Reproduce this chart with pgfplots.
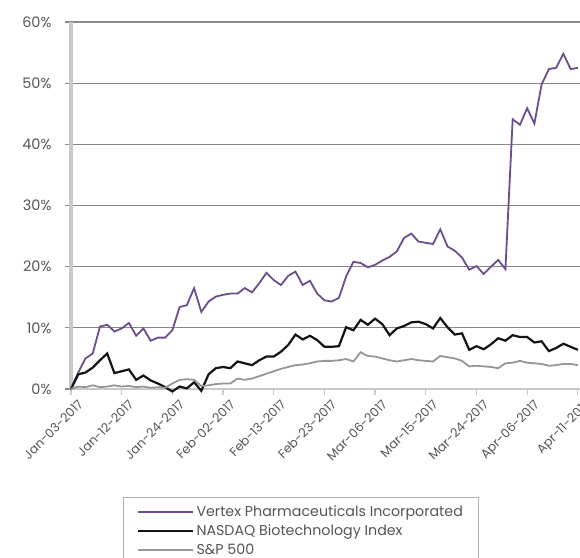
\documentclass[border=0pt]{standalone}
\usepackage{pgfplots}
\usepackage{pgfplotstable}
\pgfplotsset{compat=1.18}
\usepackage{fontspec}
\setmainfont{Poppins}
\definecolor{vpurple}{RGB}{108,78,140}
\definecolor{nblack}{RGB}{20,20,20}
\definecolor{sgray}{RGB}{150,150,150}
\definecolor{gridgray}{RGB}{135,135,135}
\definecolor{axgray}{RGB}{200,200,200}
\definecolor{txtgray}{RGB}{85,85,85}
\pgfplotstableread{
idx V N S
0 0.0 0.0 0.0
1 2.7 2.4 0.4
2 5.0 2.7 0.3
3 5.8 3.5 0.6
4 10.2 4.7 0.3
5 10.5 5.8 0.4
6 9.4 2.6 0.6
7 9.9 2.9 0.4
8 10.8 3.2 0.5
9 8.7 1.5 0.3
10 9.9 2.2 0.4
11 7.9 1.4 0.2
12 8.4 0.9 0.3
13 8.4 0.3 0.2
14 9.6 -0.4 0.9
15 13.4 0.4 1.5
16 13.7 0.1 1.6
17 16.5 1.1 1.5
18 12.6 -0.3 0.5
19 14.3 2.4 0.6
20 15.1 3.4 0.8
21 15.4 3.6 0.9
22 15.6 3.4 0.9
23 15.6 4.5 1.7
24 16.5 4.2 1.5
25 15.8 3.9 1.7
26 17.3 4.7 2.1
27 19.0 5.3 2.5
28 17.8 5.3 2.9
29 17.0 6.1 3.3
30 18.5 7.2 3.6
31 19.2 8.9 3.9
32 17.0 8.1 4.0
33 17.7 8.7 4.2
34 15.6 8.0 4.5
35 14.5 6.9 4.6
36 14.3 6.9 4.6
37 14.9 7.0 4.7
38 18.4 10.1 4.9
39 20.8 9.6 4.5
40 20.6 11.3 6.0
41 19.9 10.5 5.4
42 20.3 11.5 5.3
43 21.0 10.6 5.0
44 21.6 8.8 4.7
45 22.5 9.9 4.5
46 24.7 10.3 4.7
47 25.4 10.9 4.9
48 24.1 11.0 4.7
49 23.9 10.6 4.6
50 23.7 9.9 4.5
51 26.1 11.6 5.4
52 23.3 10.1 5.2
53 22.6 8.9 5.0
54 21.5 9.1 4.6
55 19.5 6.4 3.7
56 20.1 7.0 3.8
57 18.8 6.5 3.7
58 20.0 7.3 3.6
59 21.1 8.3 3.4
60 19.6 7.9 4.2
61 44.1 8.8 4.3
62 43.2 8.5 4.6
63 45.9 8.5 4.3
64 43.4 7.6 4.2
65 49.8 7.8 4.1
66 52.3 6.2 3.8
67 52.5 6.7 3.9
68 54.8 7.4 4.1
69 52.3 6.9 4.1
70 52.5 6.4 3.9
}\datatable
\begin{document}
\begin{tikzpicture}
\useasboundingbox (-71bp,-169bp) rectangle (509bp,389bp);
\begin{axis}[
  scale only axis, width=509bp, height=367bp,
  xmin=0, xmax=70.3, ymin=0, ymax=60,
  clip=false,
  axis lines*=left,
  x axis line style={draw=axgray, line width=1.5bp},
  y axis line style={draw=axgray, line width=3bp},
  ymajorgrids, grid style={draw=gridgray, line width=1.2bp},
  tick align=outside, major tick length=6bp,
  ytick={0,10,20,30,40,50,60},
  yticklabels={0\%,10\%,20\%,30\%,40\%,50\%,60\%},
  ytick style={draw=gridgray, line width=1.2bp},
  xtick={0,7,14,21,28,35,42,49,56,63,70},
  xticklabels={Jan-03-2017,Jan-12-2017,Jan-24-2017,Feb-02-2017,Feb-13-2017,Feb-23-2017,Mar-06-2017,Mar-15-2017,Mar-24-2017,Apr-06-2017,Apr-11-2017},
  xtick style={draw=axgray, line width=1.3bp},
  yticklabel style={font=\fontsize{14.5}{16}\selectfont, text=txtgray, xshift=-10bp},
  xticklabel style={font=\fontsize{12.5}{14}\selectfont, text=txtgray, rotate=45, anchor=north east, inner sep=1bp, xshift=3bp, yshift=-6bp},
  legend style={at={(0.1016,-0.294)}, anchor=north west, draw=gray!60, line width=1.2bp,
    font=\fontsize{14.3}{16}\selectfont, text=txtgray, inner xsep=14bp, inner ysep=6bp, row sep=3bp},
  legend cell align=left,
  legend image code/.code={\draw[#1] (0bp,0bp) -- (55bp,0bp);},
]
\addplot[vpurple, line width=1.8bp] table[x=idx, y=V] {\datatable};
\addlegendentry{Vertex Pharmaceuticals Incorporated}
\addplot[nblack, line width=2.2bp] table[x=idx, y=N] {\datatable};
\addlegendentry{NASDAQ Biotechnology Index}
\addplot[sgray, line width=1.8bp] table[x=idx, y=S] {\datatable};
\addlegendentry{S\&P 500}
\end{axis}
\end{tikzpicture}
\end{document}
